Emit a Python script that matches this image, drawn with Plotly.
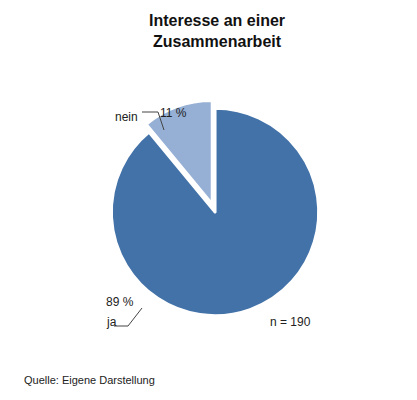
import plotly.graph_objects as go

labels = ["ja", "nein"]
values = [89, 11]
colors = ["#4272a8", "#95afd5"]
n_total = 190

fig = go.Figure(go.Pie(
    labels=labels, values=values, sort=False, direction="clockwise", rotation=0,
    marker=dict(colors=colors, line=dict(color="white", width=3)),
    pull=[0, 0.08], textinfo="none", hoverinfo="label+percent",
    domain=dict(x=[0.228, 0.765], y=[0.208, 0.772]),
))

font = dict(family="Liberation Sans, Arial", size=12, color="#222")
ann = [
    dict(x=0.5, y=0.995, yanchor="top", text="<b>Interesse an einer<br>Zusammenarbeit</b>",
         showarrow=False, font=dict(family="Liberation Sans, Arial", size=16, color="#111")),
    dict(x=118 / 417, y=1 - 100 / 400, text="nein", showarrow=False, xanchor="center"),
    dict(x=165 / 417, y=1 - 96 / 400, text=f"{values[1]} %", showarrow=False),
    dict(x=96 / 417, y=1 - 303 / 400, text=f"{values[0]} %", showarrow=False),
    dict(x=96 / 417, y=1 - 323 / 400, text="ja", showarrow=False),
    dict(x=305 / 417, y=1 - 323 / 400, text=f"n = {n_total}", showarrow=False),
    dict(x=14 / 417, y=1 - 380 / 400, text="Quelle: Eigene Darstellung", showarrow=False,
         xanchor="left", font=dict(family="Liberation Sans, Arial", size=11, color="#222")),
]
for a in ann:
    a.setdefault("font", font)
    a["xref"] = "paper"
    a["yref"] = "paper"

# leader lines
lines = [((134, 104), (150, 104)), ((150, 104), (156, 122)),
         ((106, 318), (120, 318)), ((120, 318), (134, 300))]
shapes = [dict(type="line", xref="paper", yref="paper",
               x0=p[0] / 417, y0=1 - p[1] / 400, x1=q[0] / 417, y1=1 - q[1] / 400,
               line=dict(color="#444", width=1)) for p, q in lines]

fig.update_layout(width=417, height=400, margin=dict(l=0, r=0, t=0, b=0),
                  paper_bgcolor="white", showlegend=False,
                  annotations=ann, shapes=shapes)
fig.write_html("out.html")
